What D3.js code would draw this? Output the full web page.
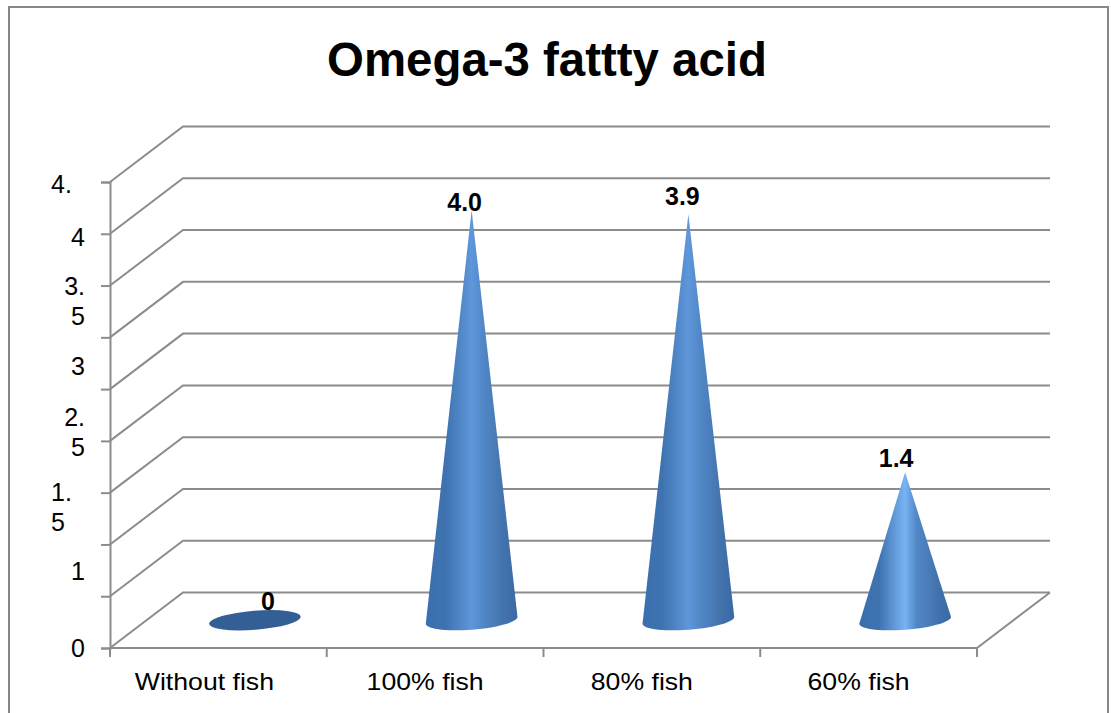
<!DOCTYPE html>
<html>
<head>
<meta charset="utf-8">
<script src="https://cdn.jsdelivr.net/npm/d3@7"></script>
<style>
html, body { margin: 0; padding: 0; background: #fff; }
svg { display: block; }
text { font-family: "Liberation Sans", Arial, sans-serif; fill: #000; }
</style>
</head>
<body>
<div id="chart"></div>
<script>
const w = 1111;
const h = 713;

const chartTitle = "Omega-3 fattty acid";
const categories = ["Without fish", "100% fish", "80% fish", "60% fish"];
const values = [0, 3.96, 3.92, 1.43];
const valueLabels = ["0", "4.0", "3.9", "1.4"];

// the axis ticks every 0.5, but the labels got wrapped and squeezed so they
// do not sit on their ticks: these are the values they visually sit at
const gridValues = [0, 0.5, 1, 1.5, 2, 2.5, 3, 3.5, 4, 4.5];
const axisLabels = [["0"], ["1"], ["1.", "5"], ["2.", "5"], ["3"], ["3.", "5"], ["4"], ["4."]];
const axisLabelValues = [0, 0.74, 1.36, 2.09, 2.72, 3.35, 3.97, 4.48];

const gridColour = "#8c8c8c";

const depthX = 73;
const depthY = -55.5;

const x = d3.scaleBand().domain(categories).range([110, 977]);
const y = d3.scaleLinear().domain([0, 4.5]).range([648, 182]);

const svg = d3.select("#chart")
    .append("svg")
    .attr("width", w)
    .attr("height", h);

// frame, the picture is cut off before its bottom edge
svg.append("path")
    .attr("d", "M9," + h + "V7H1108V" + h)
    .attr("fill", "none")
    .attr("stroke", "#878787")
    .attr("stroke-width", 2);

svg.append("text")
    .attr("x", 547)
    .attr("y", 76)
    .attr("text-anchor", "middle")
    .attr("font-size", 47.4)
    .attr("font-weight", "bold")
    .text(chartTitle);

// gridlines on the side and back walls
svg.selectAll("path.grid")
    .data(gridValues)
    .enter()
    .append("path")
    .attr("class", "grid")
    .attr("fill", "none")
    .attr("stroke", gridColour)
    .attr("stroke-width", 2)
    .attr("d", function(d) {
        return d3.line()([
            [x.range()[0], y(d)],
            [x.range()[0] + depthX, y(d) + depthY],
            [x.range()[1] + depthX, y(d) + depthY]
        ]);
    });

// floor front and right edges
svg.append("path")
    .attr("fill", "none")
    .attr("stroke", gridColour)
    .attr("stroke-width", 2)
    .attr("d", d3.line()([
        [x.range()[0], y(0)],
        [x.range()[1], y(0)],
        [x.range()[1] + depthX, y(0) + depthY]
    ]));

// value axis
var yAxis = d3.axisLeft(y)
    .tickValues(gridValues)
    .tickSize(9)
    .tickFormat("");

svg.append("g")
    .attr("transform", "translate(" + x.range()[0] + ",0)")
    .call(yAxis)
    .call(function(g) {
        g.selectAll("path, line").attr("stroke", gridColour).attr("stroke-width", 2);
    });

// category axis, ticks between the categories
var tickEdges = categories.map(function(d) { return x(d); }).concat([x.range()[1]]);

svg.selectAll("line.xtick")
    .data(tickEdges)
    .enter()
    .append("line")
    .attr("class", "xtick")
    .attr("x1", function(d) { return d; })
    .attr("x2", function(d) { return d; })
    .attr("y1", y(0))
    .attr("y2", y(0) + 9)
    .attr("stroke", gridColour)
    .attr("stroke-width", 2);

// the original text is a little stretched sideways
svg.selectAll("text.cat")
    .data(categories)
    .enter()
    .append("text")
    .attr("class", "cat")
    .attr("x", function(d, i) { return x(d) + x.bandwidth() / 2 - (i == 0 ? 14 : 10); })
    .attr("y", 690)
    .attr("text-anchor", "middle")
    .attr("font-size", 24)
    .text(function(d) { return d; })
    .each(function() {
        d3.select(this)
            .attr("textLength", this.getComputedTextLength() * 1.11)
            .attr("lengthAdjust", "spacingAndGlyphs");
    });

// wrapped value labels, "4." and "1." hang further left than the rest
var labelGroups = svg.selectAll("text.ylab")
    .data(axisLabels)
    .enter()
    .append("text")
    .attr("class", "ylab")
    .attr("text-anchor", function(d) {
        return d[0] == "4." || d[0] == "1." ? "start" : "end";
    })
    .attr("font-size", 25);

labelGroups.each(function(lines, i) {
    var top = y(axisLabelValues[i]) - (lines.length - 1) * 15 + 9;
    d3.select(this).selectAll("tspan")
        .data(lines)
        .enter()
        .append("tspan")
        .attr("x", lines[0] == "4." || lines[0] == "1." ? 51 : 85)
        .attr("y", function(d, j) { return top + j * 30; })
        .text(function(d) { return d; });
});

// cone shading, the last cone catches more light
var defs = svg.append("defs");

function addGradient(id, peak) {
    var grad = defs.append("linearGradient")
        .attr("id", id)
        .attr("x1", "0%").attr("x2", "100%")
        .attr("y1", "0%").attr("y2", "0%");
    [[0, "#3a6fae"], [0.22, "#3f73b0"], [0.5, peak], [0.62, "#5288c8"], [0.85, "#4373ad"], [1, "#3a69a5"]]
        .forEach(function(s) {
            grad.append("stop").attr("offset", s[0]).attr("stop-color", s[1]);
        });
}
addGradient("coneFill", "#5e97da");
addGradient("coneFillBright", "#78b3f4");

var radiusX = 46;
var radiusY = 9.5;
var tilt = -4.5 * Math.PI / 180;

function basePoint(cx, cy, angle) {
    var ex = radiusX * Math.cos(angle);
    var ey = radiusY * Math.sin(angle);
    return [cx + ex * Math.cos(tilt) - ey * Math.sin(tilt),
            cy + ex * Math.sin(tilt) + ey * Math.cos(tilt)];
}

function conePath(cx, cy, topY) {
    var points = d3.range(0, 181, 6).map(function(a) {
        return basePoint(cx, cy, a * Math.PI / 180);
    });
    points.push([cx, topY]);
    return d3.line()(points) + "Z";
}

// data labels do not sit at a fixed distance from the tips
var labelNudgeX = [13, -7, -6, -9];
var labelNudgeY = [-10, 1, -9, -5];

var cones = svg.selectAll("g.cone")
    .data(values)
    .enter()
    .append("g")
    .attr("class", "cone");

cones.each(function(d, i) {
    var cx = x(categories[i]) + x.bandwidth() / 2 + depthX / 2;
    var cy = y(0) + depthY / 2;
    var topY = y(d) + depthY / 2;
    var g = d3.select(this);
    if (d > 0) {
        g.append("path")
            .attr("d", conePath(cx, cy, topY))
            .attr("fill", i == 3 ? "url(#coneFillBright)" : "url(#coneFill)");
    } else {
        // zero height: only the flat base disc is left
        g.append("ellipse")
            .attr("rx", radiusX)
            .attr("ry", radiusY)
            .attr("transform", "translate(" + cx + "," + cy + ") rotate(-4.5)")
            .attr("fill", "#335f96");
    }
    g.append("text")
        .attr("x", cx + labelNudgeX[i])
        .attr("y", topY + labelNudgeY[i])
        .attr("text-anchor", "middle")
        .attr("font-size", 25)
        .attr("font-weight", "bold")
        .text(valueLabels[i]);
});
</script>
</body>
</html>
